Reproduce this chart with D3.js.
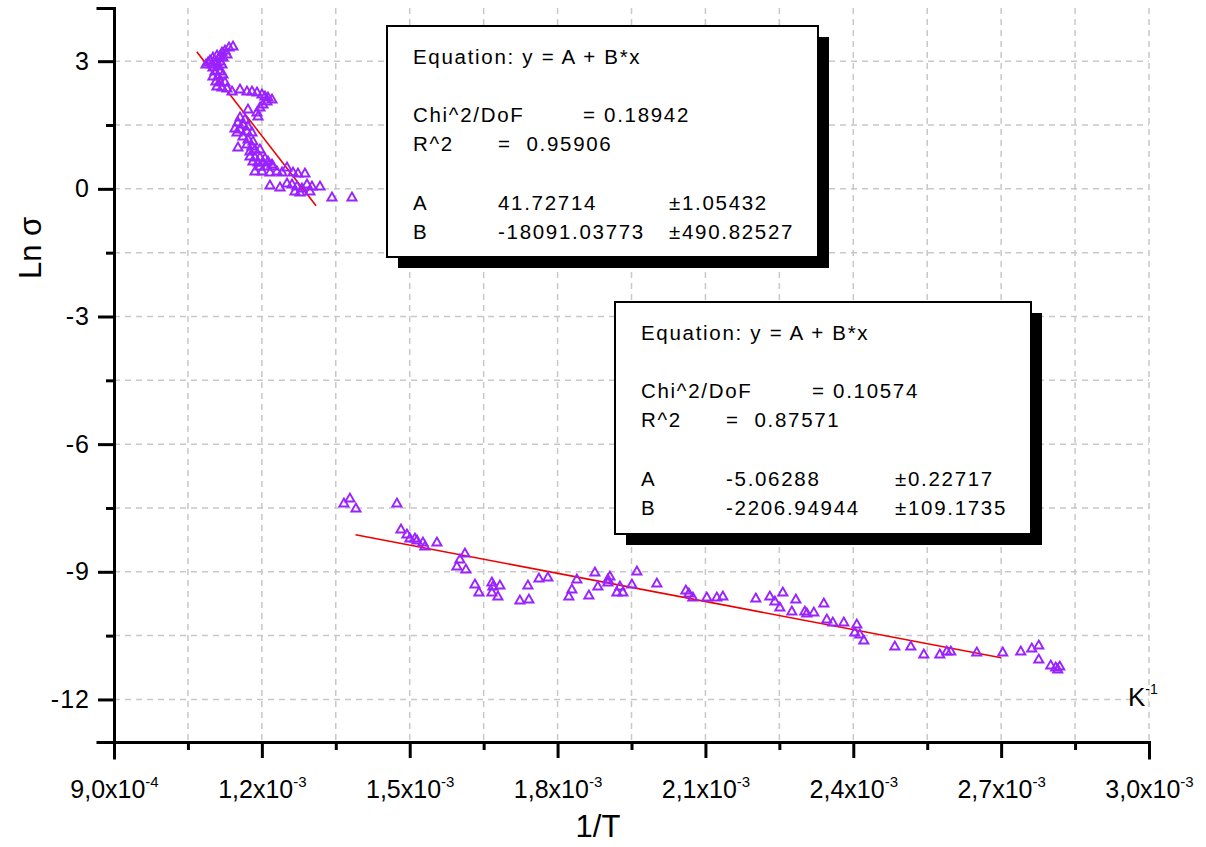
<!DOCTYPE html>
<html>
<head>
    <title>Ln sigma vs 1/T</title>
    <meta charset="utf-8">
    <style>
        body { margin: 0; background: #fff; }
        text { font-family: Arial, "Liberation Sans", sans-serif; fill: #000; white-space: pre; }
        .axis path, .axis line { stroke: #000; stroke-width: 3px; fill: none; }
        .grid line { stroke: #c8c8c8; stroke-width: 1.5px; stroke-dasharray: 6,5; }
        .fit { fill: none; stroke: #ee0000; stroke-width: 1.6px; }
        .pt { fill: none; stroke: #9a22ff; stroke-width: 1.9px; }
    </style>
    <script src="https://d3js.org/d3.v7.min.js"></script>
</head>
<body>
<div id="graph"></div>
<script>
// high temperature branch (1/T, Ln sigma)
var highT = [
    [1.1414e-3, 3.337], [1.1333e-3, 3.314], [1.1252e-3, 3.243], [1.1191e-3, 3.196], [1.1089e-3, 3.126],
    [1.1008e-3, 3.079], [1.0947e-3, 3.008], [1.0907e-3, 2.961], [1.0866e-3, 2.914], [1.0988e-3, 2.914],
    [1.1089e-3, 2.961], [1.1150e-3, 2.985], [1.1211e-3, 3.079], [1.1292e-3, 3.149], [1.1150e-3, 3.102],
    [1.1008e-3, 2.844], [1.1110e-3, 2.867], [1.1191e-3, 2.914], [1.1049e-3, 2.750], [1.1150e-3, 2.750],
    [1.1008e-3, 2.632], [1.1110e-3, 2.632], [1.1211e-3, 2.679], [1.1069e-3, 2.515], [1.1150e-3, 2.491],
    [1.1252e-3, 2.491], [1.1089e-3, 2.397], [1.1191e-3, 2.374], [1.1292e-3, 2.350], [1.1394e-3, 2.280],
    [1.1556e-3, 2.327], [1.1698e-3, 2.280], [1.1799e-3, 2.280], [1.1901e-3, 2.256], [1.2002e-3, 2.209],
    [1.2063e-3, 2.162], [1.2124e-3, 2.139], [1.2205e-3, 2.092], [1.2103e-3, 2.045], [1.2022e-3, 1.974],
    [1.1961e-3, 1.904], [1.1901e-3, 1.786], [1.1921e-3, 1.692], [1.1718e-3, 1.857], [1.1556e-3, 1.669],
    [1.1657e-3, 1.622], [1.1515e-3, 1.551], [1.1617e-3, 1.504], [1.1718e-3, 1.457], [1.1454e-3, 1.410],
    [1.1556e-3, 1.387], [1.1698e-3, 1.340], [1.1799e-3, 1.316], [1.1495e-3, 1.316], [1.1617e-3, 1.222],
    [1.1718e-3, 1.152], [1.1820e-3, 1.105], [1.1515e-3, 0.964], [1.1698e-3, 1.034], [1.1799e-3, 0.987],
    [1.1860e-3, 0.917], [1.1759e-3, 0.870], [1.1961e-3, 0.917], [1.1759e-3, 0.752], [1.1860e-3, 0.729],
    [1.1961e-3, 0.729], [1.2063e-3, 0.705], [1.1820e-3, 0.635], [1.1921e-3, 0.611], [1.2022e-3, 0.611],
    [1.2124e-3, 0.635], [1.2205e-3, 0.564], [1.1961e-3, 0.517], [1.2103e-3, 0.517], [1.2225e-3, 0.517],
    [1.1860e-3, 0.400], [1.2002e-3, 0.400], [1.2164e-3, 0.376], [1.2306e-3, 0.400], [1.2408e-3, 0.376],
    [1.2509e-3, 0.494], [1.2631e-3, 0.376], [1.2732e-3, 0.353], [1.2874e-3, 0.353], [1.2164e-3, 0.071],
    [1.2367e-3, 0.024], [1.2509e-3, 0.118], [1.2611e-3, 0.094], [1.2712e-3, 0.047], [1.2813e-3, 0.000],
    [1.2915e-3, 0.094], [1.3016e-3, 0.047], [1.2671e-3, -0.071], [1.2773e-3, -0.094], [1.3179e-3, 0.047],
    [1.2976e-3, -0.071], [1.3422e-3, -0.212], [1.3828e-3, -0.212]
];

// low temperature branch
var lowT = [
    [1.3665e-3, -7.403], [1.3787e-3, -7.286], [1.3909e-3, -7.521], [1.4740e-3, -7.403], [1.4822e-3, -8.014],
    [1.4943e-3, -8.132], [1.5004e-3, -8.226], [1.5105e-3, -8.226], [1.5146e-3, -8.273], [1.5268e-3, -8.320],
    [1.5308e-3, -8.414], [1.5552e-3, -8.320], [1.6120e-3, -8.578], [1.6018e-3, -8.719], [1.5957e-3, -8.884],
    [1.6140e-3, -8.954], [1.6323e-3, -9.307], [1.6404e-3, -9.495], [1.6667e-3, -9.260], [1.6688e-3, -9.354],
    [1.6830e-3, -9.330], [1.6667e-3, -9.495], [1.6789e-3, -9.589], [1.7235e-3, -9.683], [1.7418e-3, -9.659],
    [1.7398e-3, -9.330], [1.7621e-3, -9.166], [1.7803e-3, -9.142], [1.8391e-3, -9.189], [1.8757e-3, -9.025],
    [1.8290e-3, -9.424], [1.8229e-3, -9.589], [1.8635e-3, -9.565], [1.8817e-3, -9.354], [1.9061e-3, -9.119],
    [1.9020e-3, -9.260], [1.9264e-3, -9.354], [1.9203e-3, -9.495], [1.9325e-3, -9.495], [1.9020e-3, -9.189],
    [1.9507e-3, -9.307], [1.9609e-3, -9.001], [2.0014e-3, -9.283], [2.0602e-3, -9.448], [2.0663e-3, -9.518],
    [2.0744e-3, -9.612], [2.1028e-3, -9.612], [2.1231e-3, -9.612], [2.1353e-3, -9.589], [2.2022e-3, -9.636],
    [2.2306e-3, -9.589], [2.2408e-3, -9.706], [2.2570e-3, -9.495], [2.2509e-3, -9.847], [2.2753e-3, -9.941],
    [2.2834e-3, -9.659], [2.3016e-3, -9.941], [2.3057e-3, -9.988], [2.3199e-3, -9.965], [2.3402e-3, -9.753],
    [2.3462e-3, -10.129], [2.3584e-3, -10.200], [2.3807e-3, -10.200], [2.4071e-3, -10.247], [2.4030e-3, -10.435],
    [2.4132e-3, -10.482], [2.4213e-3, -10.623], [2.4842e-3, -10.764], [2.5166e-3, -10.764], [2.5430e-3, -10.952],
    [2.5755e-3, -10.952], [2.5897e-3, -10.881], [2.5978e-3, -10.881], [2.6505e-3, -10.905], [2.7032e-3, -10.905],
    [2.7398e-3, -10.881], [2.7621e-3, -10.811], [2.7763e-3, -10.740], [2.7763e-3, -11.069], [2.8006e-3, -11.210],
    [2.8107e-3, -11.257], [2.8189e-3, -11.234], [2.8148e-3, -11.304]
];

// linear fit segments as drawn
var fitHigh = [[1.068e-3, 3.22], [1.310e-3, -0.40]];
var fitLow = [[1.39e-3, -8.13], [2.70e-3, -11.02]];

var xTicks = [9e-4, 1.2e-3, 1.5e-3, 1.8e-3, 2.1e-3, 2.4e-3, 2.7e-3, 3.0e-3];
var xTickMant = ["9,0", "1,2", "1,5", "1,8", "2,1", "2,4", "2,7", "3,0"];
var xTickExp = ["-4", "-3", "-3", "-3", "-3", "-3", "-3", "-3"];
var xMinor = [1.05e-3, 1.35e-3, 1.65e-3, 1.95e-3, 2.25e-3, 2.55e-3, 2.85e-3];
var yTicks = [3, 0, -3, -6, -9, -12];
var yMinor = [1.5, -1.5, -4.5, -7.5, -10.5];

var box1Head = "Equation: y = A + B*x";
var box1Stats = [["Chi^2/DoF", "= 0.18942"], ["R^2", "=  0.95906"]];
var box1Params = [["A", "41.72714", "\u00b11.05432"], ["B", "-18091.03773", "\u00b1490.82527"]];
var box2Head = "Equation: y = A + B*x";
var box2Stats = [["Chi^2/DoF", "= 0.10574"], ["R^2", "=  0.87571"]];
var box2Params = [["A", "-5.06288", "\u00b10.22717"], ["B", "-2206.94944", "\u00b1109.1735"]];

var W = 1206, H = 847;
var margin = { top: 8, right: 57, bottom: 105, left: 114 };
var width = W - margin.left - margin.right;
var height = H - margin.top - margin.bottom;

var svg = d3.select("#graph").append("svg")
    .attr("width", W)
    .attr("height", H);
var g = svg.append("g")
    .attr("transform", "translate(" + margin.left + "," + margin.top + ")");

var x = d3.scaleLinear().domain([9e-4, 3.0e-3]).range([0, width]);
var y = d3.scaleLinear().domain([-13, 4.25]).range([height, 0]);

// grid
var grid = g.append("g").attr("class", "grid");
grid.selectAll(".gx").data(xTicks.concat(xMinor).filter(function(d) { return d > 9e-4; }))
    .enter().append("line")
    .attr("x1", function(d) { return x(d); }).attr("x2", function(d) { return x(d); })
    .attr("y1", 0).attr("y2", height);
grid.selectAll(".gy").data(yTicks.concat(yMinor))
    .enter().append("line")
    .attr("y1", function(d) { return y(d); }).attr("y2", function(d) { return y(d); })
    .attr("x1", 0).attr("x2", width);

// fit boxes (drawn below the data like the original)
function fitBox(bx, by, bw, bh, head, stats, params, col2, col3, eqCol) {
    var b = svg.append("g").attr("transform", "translate(" + bx + "," + by + ")");
    b.append("rect").attr("x", 11).attr("y", 11).attr("width", bw).attr("height", bh).attr("fill", "#000");
    b.append("rect").attr("width", bw).attr("height", bh).attr("fill", "#fff")
        .attr("stroke", "#000").attr("stroke-width", 2);
    var t = b.append("g").style("font-size", "20.5px").style("letter-spacing", "1.7px");
    t.append("text").attr("x", 26).attr("y", 38).text(head);
    stats.forEach(function(r, i) {
        t.append("text").attr("x", 26).attr("y", 96 + i * 29).text(r[0]);
        t.append("text").attr("x", i == 0 ? eqCol : col2).attr("y", 96 + i * 29).text(r[1]);
    });
    params.forEach(function(r, i) {
        t.append("text").attr("x", 26).attr("y", 184 + i * 29).text(r[0]);
        t.append("text").attr("x", col2).attr("y", 184 + i * 29).text(r[1]);
        t.append("text").attr("x", col3).attr("y", 184 + i * 29).text(r[2]);
    });
}
fitBox(387, 26, 431, 231, box1Head, box1Stats, box1Params, 111, 282, 196);
fitBox(615, 302, 416, 232, box2Head, box2Stats, box2Params, 111, 280, 197);

// fit lines
var line = d3.line()
    .x(function(d) { return x(d[0]); })
    .y(function(d) { return y(d[1]); });
g.append("path").datum(fitHigh).attr("class", "fit").attr("d", line);
g.append("path").datum(fitLow).attr("class", "fit").attr("d", line);

// points
var tri = d3.symbol().type(d3.symbolTriangle).size(36);
g.selectAll(".pt").data(highT.concat(lowT))
    .enter().append("path")
    .attr("class", "pt")
    .attr("d", tri)
    .attr("transform", function(d) { return "translate(" + x(d[0]) + "," + y(d[1]) + ")"; });

// axes
var xAxis = d3.axisBottom(x).tickValues(xTicks).tickSize(16).tickPadding(10).tickFormat("");
var xAxisMinor = d3.axisBottom(x).tickValues(xMinor).tickSize(8).tickFormat("");
var yAxis = d3.axisLeft(y).tickValues(yTicks).tickSize(16).tickPadding(10).tickFormat(d3.format("d"));
var yAxisMinor = d3.axisLeft(y).tickValues(yMinor).tickSize(8).tickFormat("");

g.append("g").attr("class", "axis").attr("transform", "translate(0," + height + ")").call(xAxisMinor);
var gx = g.append("g").attr("class", "axis").attr("transform", "translate(0," + height + ")").call(xAxis);
g.append("g").attr("class", "axis").call(yAxisMinor);
var gy = g.append("g").attr("class", "axis").call(yAxis);
g.selectAll(".axis .domain").attr("stroke-linecap", "square");

gy.selectAll(".tick text").style("font-size", "25px").style("letter-spacing", "1px")
    .attr("fill", "#000").attr("x", -24)
    .text(function(d) { return d; });

gx.selectAll(".tick text").each(function(d, i) {
    var t = d3.select(this).style("font-size", "25px").attr("fill", "#000").attr("dy", "1.2em");
    t.text(null);
    t.append("tspan").text(xTickMant[i] + "x10");
    t.append("tspan").attr("dy", "-11").style("font-size", "15px").text(xTickExp[i]);
});

// axis titles
svg.append("text")
    .attr("transform", "translate(41," + 248 + ") rotate(-90)")
    .attr("text-anchor", "middle")
    .style("font-size", "31px")
    .text("Ln \u03c3");
svg.append("text")
    .attr("x", 598).attr("y", 837)
    .attr("text-anchor", "middle")
    .style("font-size", "31px")
    .text("1/T");
var kLab = svg.append("text").attr("x", 1128).attr("y", 706).style("font-size", "26px");
kLab.append("tspan").text("K");
kLab.append("tspan").attr("dy", "-12").style("font-size", "14px").text("-1");
</script>
</body>
</html>
